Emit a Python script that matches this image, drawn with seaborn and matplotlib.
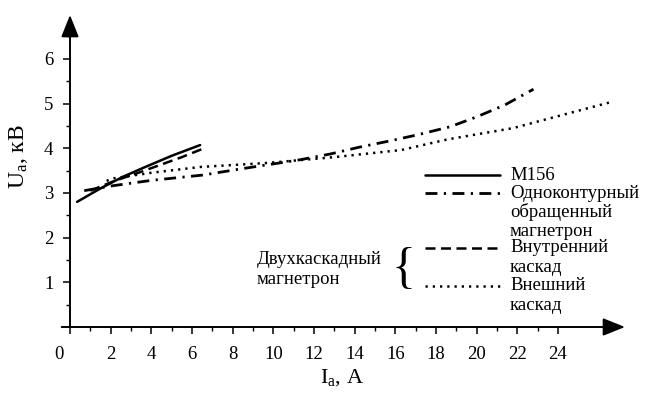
import numpy as np
import pandas as pd
import matplotlib
matplotlib.use("Agg")
import matplotlib.pyplot as plt
import matplotlib.transforms as mtransforms
import seaborn as sns

# Anode current I_a (A) and anode voltage U_a (kV) for each device
m156_I = [0.35, 1.5, 2.6, 3.6, 5.0, 6.4]
m156_U = [2.80, 3.10, 3.36, 3.56, 3.83, 4.07]

single_I = [0.7, 2.1, 4.0, 6.55, 8.3, 11.3, 12.8, 14.2, 15.7, 17.1, 18.7, 20.0, 21.4, 22.8]
single_U = [3.05, 3.16, 3.28, 3.40, 3.53, 3.74, 3.87, 4.02, 4.16, 4.30, 4.48, 4.70, 4.97, 5.32]

inner_I = [1.0, 2.2, 3.3, 4.4, 5.5, 6.6]
inner_U = [3.05, 3.27, 3.44, 3.62, 3.80, 4.00]

outer_I = [1.8, 2.2, 4.0, 6.4, 9.7, 13.0, 16.3, 18.6, 21.8, 25.1, 26.6]
outer_U = [3.27, 3.33, 3.45, 3.58, 3.67, 3.80, 3.96, 4.20, 4.45, 4.85, 5.03]

x_ticks = [0, 2, 4, 6, 8, 10, 12, 14, 16, 18, 20, 22, 24]
y_ticks = [1, 2, 3, 4, 5, 6]

sns.set_theme(style="white")
plt.rcParams["font.family"] = ["Liberation Serif", "DejaVu Serif"]
plt.rcParams["mathtext.fontset"] = "custom"
plt.rcParams["mathtext.rm"] = "Liberation Serif"
plt.rcParams["mathtext.it"] = "Liberation Serif"

fig = plt.figure(figsize=(6.5, 3.97), dpi=100)
ax = fig.add_axes([70 / 650, 70 / 397, 555 / 650, 312 / 397])

styles = {
    "solid": dict(linestyle="-", linewidth=1.8),
    "dashdot": dict(linestyle=(0, (4.3, 2.3, 0.8, 2.3)), linewidth=2.0),
    "dashed": dict(linestyle=(0, (4.0, 2.2)), linewidth=1.8),
    "dotted": dict(linestyle=(0, (0.9, 2.0)), linewidth=1.8),
}

series = [
    (m156_I, m156_U, "solid"),
    (single_I, single_U, "dashdot"),
    (inner_I, inner_U, "dashed"),
    (outer_I, outer_U, "dotted"),
]
for xs, ys, st in series:
    df = pd.DataFrame({"I": xs, "U": ys})
    sns.lineplot(data=df, x="I", y="U", ax=ax, color="black", **styles[st])

ax.set_xlim(0, 27.3)
ax.set_ylim(0, 6.98)

# Axes drawn as arrows
for s in ax.spines.values():
    s.set_visible(False)
ax.annotate("", xy=(1.0, 0), xytext=(-0.015, 0), xycoords="axes fraction",
            arrowprops=dict(arrowstyle="-|>,head_length=0.75,head_width=0.3",
                            color="black", lw=1.4, shrinkA=0, shrinkB=0,
                            mutation_scale=18))
ax.annotate("", xy=(0, 1.0), xytext=(0, 0), xycoords="axes fraction",
            arrowprops=dict(arrowstyle="-|>,head_length=0.75,head_width=0.3",
                            color="black", lw=1.4, shrinkA=0, shrinkB=0,
                            mutation_scale=18))

ax.set_xticks(x_ticks)
ax.set_xticklabels([str(t) for t in x_ticks])
ax.set_xticks(np.arange(1, 25, 2), minor=True)
ax.set_yticks(y_ticks)
ax.set_yticklabels([str(t) for t in y_ticks])
ax.set_yticks(np.arange(0.5, 6.6, 1.0), minor=True)
ax.tick_params(axis="both", which="major", direction="out", length=5, width=1.1,
               colors="black", labelsize=13.5, bottom=True, left=True)
ax.tick_params(axis="x", which="major", pad=9)
ax.tick_params(axis="y", which="major", pad=7)
ax.tick_params(axis="both", which="minor", direction="out", length=3, width=1.0,
               colors="black", bottom=True, left=True)

# shift the zero label to the left of the vertical axis
lbl0 = ax.get_xticklabels()[0]
lbl0.set_transform(lbl0.get_transform() +
                   mtransforms.ScaledTranslation(-11 / 100, 0, fig.dpi_scale_trans))

ax.set_xlabel(r"I$_{\rm a}$, A", fontsize=16, color="black")
ax.set_ylabel(r"U$_{\rm a}$, кВ", fontsize=17, color="black")
ax.xaxis.set_label_coords(0.49, -0.128)
ax.yaxis.set_label_coords(-0.072, 0.545)

# Legend built from line samples and captions
def ay(py):
    return (327 - py) / 312

def axx(px):
    return (px - 70) / 555

lx0, lx1, tx = axx(425), axx(500), axx(510)
fs = 13.5
entries = [
    (175, "solid", ["M156"]),
    (193, "dashdot", ["Одноконтурный", "обращенный", "магнетрон"]),
    (248, "dashed", ["Внутренний", "каскад"]),
    (286, "dotted", ["Внешний", "каскад"]),
]
for py, st, lines in entries:
    ax.plot([lx0, lx1], [ay(py), ay(py)], transform=ax.transAxes, color="black",
            clip_on=False, **styles[st])
    for k, t in enumerate(lines):
        ax.text(tx, ay(py + 19 * k), t, transform=ax.transAxes, fontsize=fs,
                va="center", ha="left", color="black")

ax.text(axx(257), ay(259), "Двухкаскадный", transform=ax.transAxes, fontsize=fs,
        va="center", ha="left", color="black")
ax.text(axx(257), ay(280), "магнетрон", transform=ax.transAxes, fontsize=fs,
        va="center", ha="left", color="black")
ax.text(axx(403), ay(270), "{", transform=ax.transAxes, fontsize=36,
        va="center", ha="center", color="black", fontweight="light")

fig.savefig("out.png", dpi=100, facecolor="white")
